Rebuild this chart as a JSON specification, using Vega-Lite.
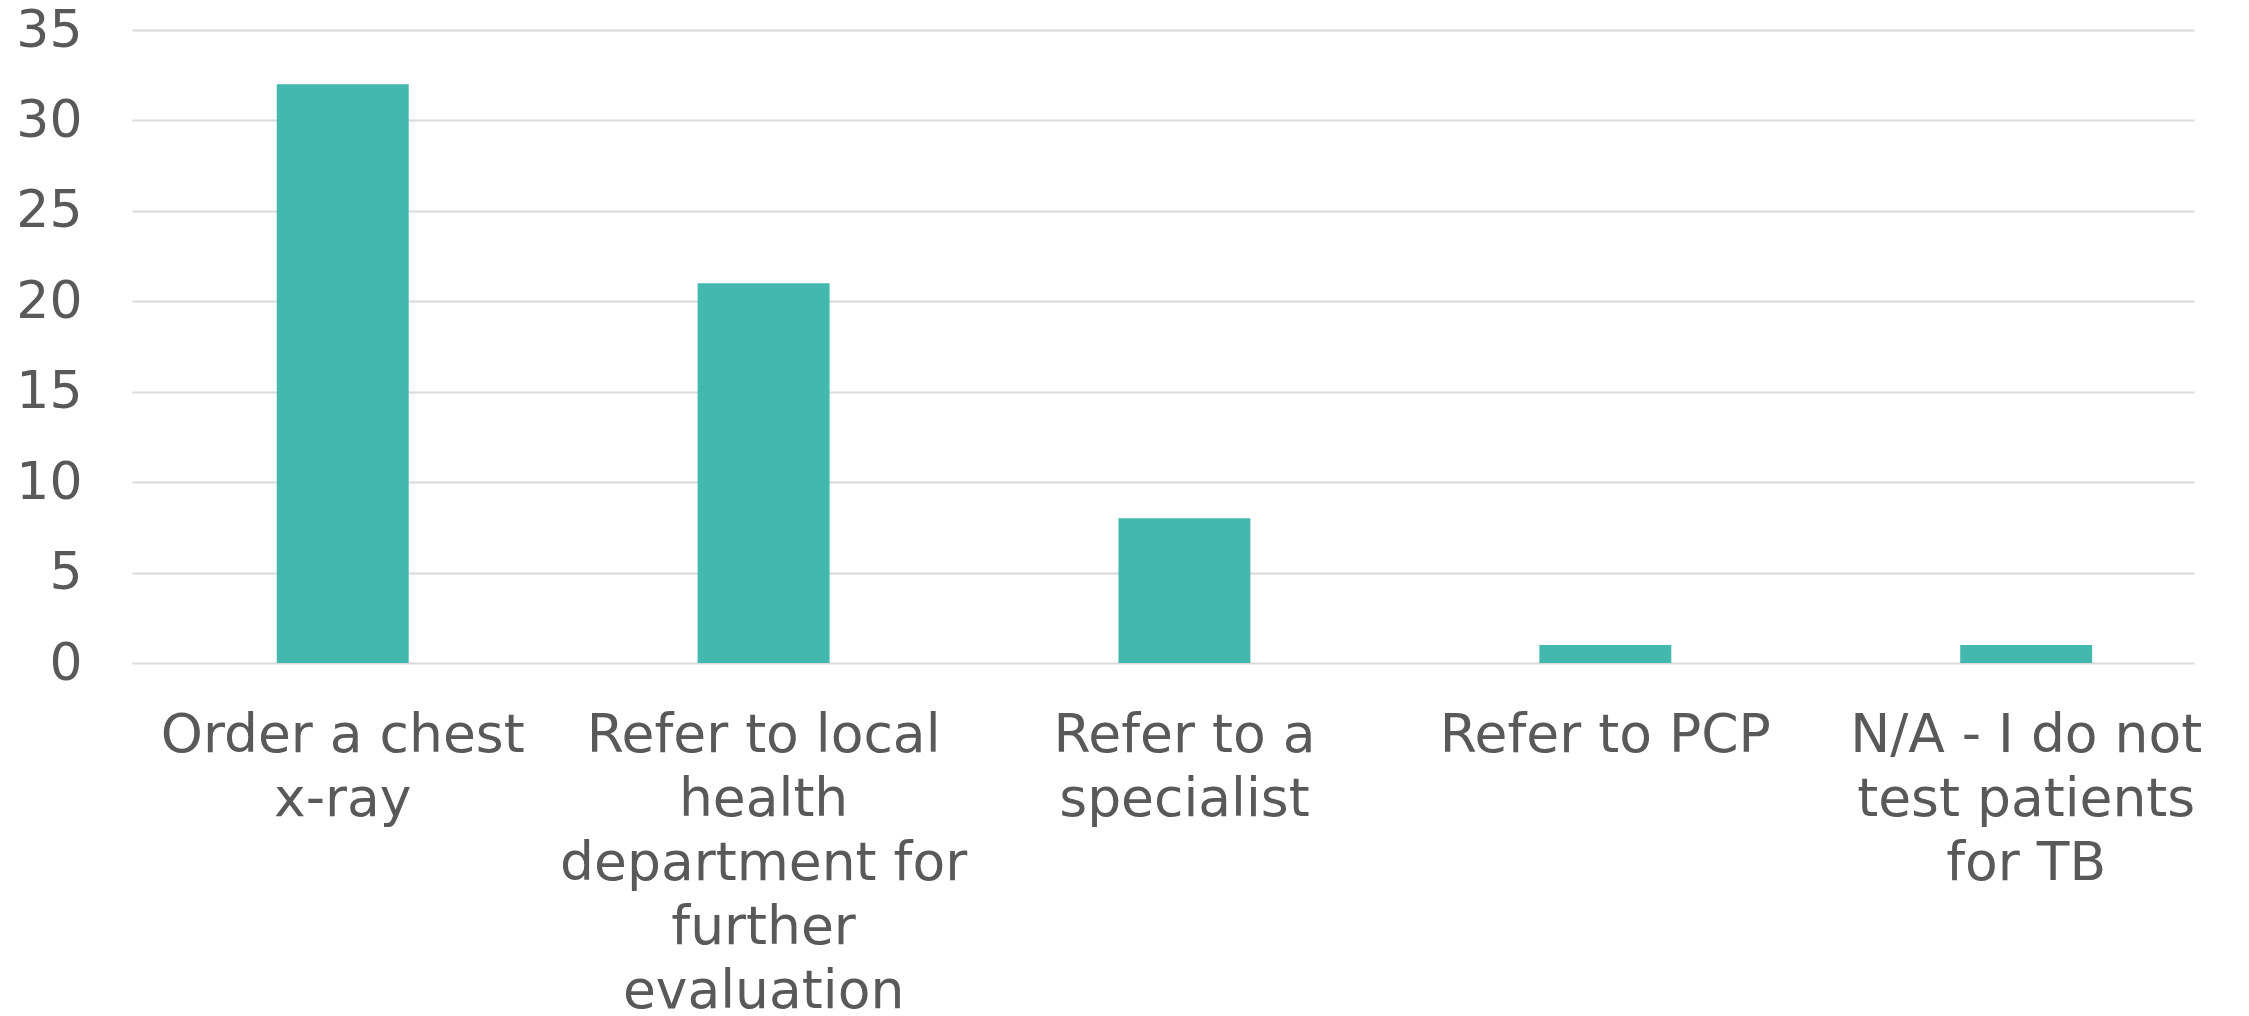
{
  "$schema": "https://vega.github.io/schema/vega-lite/v6.json",
  "autosize": {"type": "none"},
  "width": 2062,
  "height": 633,
  "padding": {"left": 132, "top": 30, "right": 55, "bottom": 353},
  "background": "white",
  "data": {
    "values": [
      {"category": "Order a chest x-ray", "count": 32},
      {"category": "Refer to local health department for further evaluation", "count": 21},
      {"category": "Refer to a specialist", "count": 8},
      {"category": "Refer to PCP", "count": 1},
      {"category": "N/A - I do not test patients for TB", "count": 1}
    ]
  },
  "mark": {"type": "bar", "color": "#43B8AE"},
  "encoding": {
    "x": {
      "field": "category",
      "type": "nominal",
      "sort": null,
      "title": null,
      "scale": {"paddingInner": 0.6865, "paddingOuter": 0.293, "align": 0.587},
      "axis": {
        "labelAngle": 0,
        "labelFont": "DejaVu Sans",
        "labelFontSize": 53.5,
        "labelColor": "#595959",
        "labelLineHeight": 64,
        "labelPadding": 46,
        "labelLimit": 1000,
        "ticks": false,
        "domain": false,
        "labelExpr": "datum.label == 'Order a chest x-ray' ? ['Order a chest', 'x-ray'] : datum.label == 'Refer to local health department for further evaluation' ? ['Refer to local', 'health', 'department for', 'further', 'evaluation'] : datum.label == 'Refer to a specialist' ? ['Refer to a', 'specialist'] : datum.label == 'N/A - I do not test patients for TB' ? ['N/A - I do not', 'test patients', 'for TB'] : datum.label"
      }
    },
    "y": {
      "field": "count",
      "type": "quantitative",
      "title": null,
      "scale": {"domain": [0, 35]},
      "axis": {
        "values": [0, 5, 10, 15, 20, 25, 30, 35],
        "labelFont": "DejaVu Sans",
        "labelFontSize": 52,
        "labelColor": "#595959",
        "labelPadding": 50,
        "ticks": false,
        "domain": false,
        "grid": true,
        "gridColor": "#D9D9D9",
        "gridWidth": 2
      }
    }
  },
  "config": {"view": {"stroke": null}}
}
